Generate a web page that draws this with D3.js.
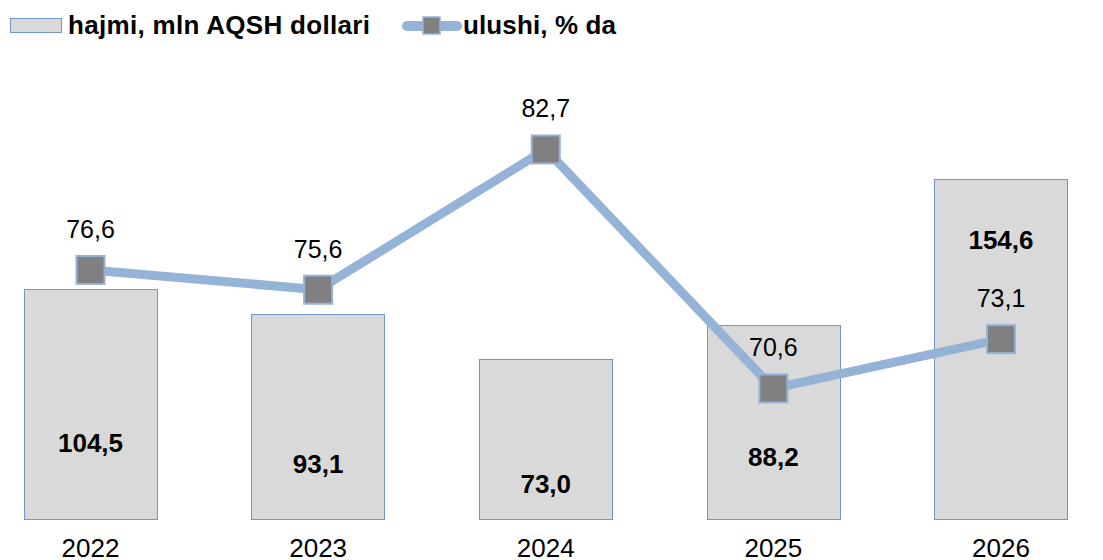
<html>
  <head>
    <title>hajmi va ulushi</title>
    <style>
      body { margin: 0; background: #fff; }
      text { font-family: "Liberation Sans", Arial, sans-serif; fill: #000; }
    </style>
  </head>
  <body>
    <svg id="chart" width="1103" height="560"></svg>

    <script type="text/javascript" src="https://cdnjs.cloudflare.com/ajax/libs/d3/7.8.5/d3.min.js"></script>
    <script type="text/javascript">
      // data
      var years = ['2022', '2023', '2024', '2025', '2026'];
      var hajmi = [104.5, 93.1, 73.0, 88.2, 154.6];      // mln AQSH dollari (bars)
      var ulushi = [76.6, 75.6, 82.7, 70.6, 73.1];       // % (line)
      var barLabelAt = [30.6, 20.8, 11.7, 24.1, 122.8];  // where each bar label sits, in bar units
      var legendLabels = ['hajmi, mln AQSH dollari', 'ulushi, % da'];

      var fmt = d3.formatLocale({ decimal: ',', thousands: ' ', grouping: [3], currency: ['', ''] }).format('.1f');

      var svg = d3.select('#chart');

      var x = d3.scaleBand().domain(years)
        .range([-23.3, 1114.8])
        .paddingInner(0.414)
        .paddingOuter(0.207);
      var yBar = d3.scaleLinear().domain([0, 200]).range([519, 79.6]);
      var yLine = d3.scaleLinear().domain([70, 85]).range([400.3, 104.05]);

      var barFill = '#d9d9d9', barStroke = '#7096cb';
      var lineColor = '#95b3d7', markerFill = '#808080';

      // bars
      svg.append('g').selectAll('rect').data(hajmi).enter().append('rect')
        .attr('x', function (d, i) { return Math.round(x(years[i])) + 0.5; })
        .attr('y', function (d) { return Math.round(yBar(d)) + 0.5; })
        .attr('width', Math.round(x.bandwidth()))
        .attr('height', function (d) { return Math.round(yBar(0)) - Math.round(yBar(d)); })
        .style('fill', barFill)
        .style('stroke', barStroke)
        .style('stroke-width', 1);

      // bar value labels
      svg.append('g').selectAll('text').data(hajmi).enter().append('text')
        .attr('x', function (d, i) { return x(years[i]) + x.bandwidth() / 2; })
        .attr('y', function (d, i) { return yBar(barLabelAt[i]); })
        .attr('text-anchor', 'middle')
        .style('font-size', '26px')
        .style('font-weight', 'bold')
        .text(function (d) { return fmt(d); });

      // x axis labels
      var xAxis = svg.append('g')
        .attr('transform', 'translate(0,' + yBar(0) + ')')
        .call(d3.axisBottom(x).tickSize(0).tickPadding(38));
      xAxis.select('.domain').remove();
      xAxis.selectAll('text')
        .attr('dy', 0)
        .style('font-size', '26px')
        .style('font-family', '"Liberation Sans", Arial, sans-serif')
        .style('fill', '#000');

      // line
      var line = d3.line()
        .x(function (d, i) { return x(years[i]) + x.bandwidth() / 2; })
        .y(function (d) { return yLine(d); });
      svg.append('path').datum(ulushi)
        .attr('d', line)
        .style('fill', 'none')
        .style('stroke', lineColor)
        .style('stroke-width', 9)
        .style('stroke-linejoin', 'round');

      // markers
      var ms = 28;
      svg.append('g').selectAll('rect').data(ulushi).enter().append('rect')
        .attr('x', function (d, i) { return x(years[i]) + x.bandwidth() / 2 - ms / 2; })
        .attr('y', function (d) { return yLine(d) - ms / 2; })
        .attr('width', ms)
        .attr('height', ms)
        .style('fill', markerFill)
        .style('stroke', lineColor)
        .style('stroke-width', 2);

      // line value labels
      svg.append('g').selectAll('text').data(ulushi).enter().append('text')
        .attr('x', function (d, i) { return x(years[i]) + x.bandwidth() / 2; })
        .attr('y', function (d) { return yLine(d) - 32; })
        .attr('text-anchor', 'middle')
        .style('font-size', '25px')
        .text(function (d) { return fmt(d); });

      // legend
      var legend = svg.append('g');
      legend.append('rect')
        .attr('x', 10.5).attr('y', 18.5).attr('width', 51).attr('height', 14)
        .style('fill', barFill).style('stroke', barStroke);
      legend.append('text')
        .attr('x', 68).attr('y', 33.5)
        .style('font-size', '26px').style('font-weight', 'bold')
        .attr('textLength', 302)
        .text(legendLabels[0]);
      legend.append('line')
        .attr('x1', 407).attr('x2', 457).attr('y1', 26).attr('y2', 26)
        .style('stroke', lineColor).style('stroke-width', 10).style('stroke-linecap', 'round');
      legend.append('rect')
        .attr('x', 423).attr('y', 17).attr('width', 17).attr('height', 17)
        .style('fill', markerFill).style('stroke', lineColor).style('stroke-width', 1.5);
      legend.append('text')
        .attr('x', 463).attr('y', 33.5)
        .style('font-size', '26px').style('font-weight', 'bold')
        .attr('textLength', 153)
        .text(legendLabels[1]);
    </script>
  </body>
</html>
